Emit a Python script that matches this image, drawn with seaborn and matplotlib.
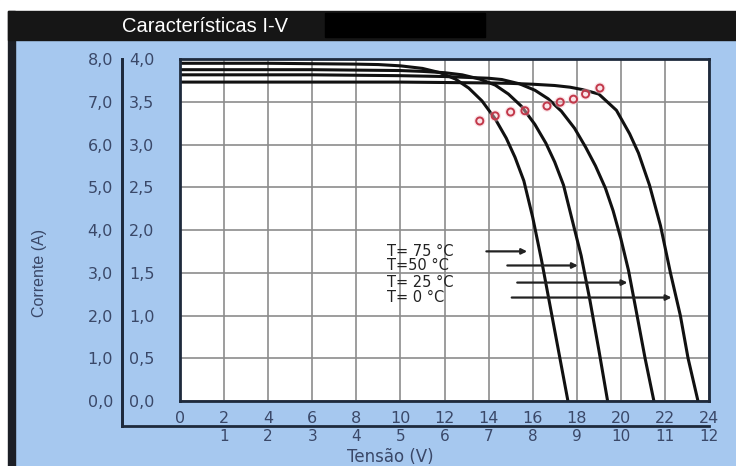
import matplotlib
matplotlib.use("Agg")
import matplotlib.pyplot as plt
from matplotlib.patches import Rectangle
import seaborn as sns
import pandas as pd

# curvas I-V (tensão em V, corrente em A)
temps = ["T= 75 °C", "T=50 °C", "T= 25 °C", "T= 0 °C"]

v_75 = [0, 2, 4, 6, 8, 9, 10, 11, 11.8, 12.5, 13.1, 13.7, 14.3, 14.8, 15.2, 15.6, 16.0, 16.4, 16.8, 17.2, 17.6]
i_75 = [7.90, 7.90, 7.90, 7.89, 7.88, 7.87, 7.84, 7.78, 7.68, 7.53, 7.32, 7.02, 6.60, 6.15, 5.70, 5.15, 4.30, 3.30, 2.20, 1.10, 0.0]

v_50 = [0, 2, 4, 6, 8, 10, 11, 12, 12.8, 13.6, 14.3, 14.9, 15.5, 16.1, 16.6, 17.0, 17.4, 17.8, 18.2, 18.6, 19.0, 19.4]
i_50 = [7.75, 7.75, 7.75, 7.75, 7.74, 7.73, 7.71, 7.68, 7.63, 7.53, 7.39, 7.18, 6.89, 6.47, 6.03, 5.59, 5.05, 4.22, 3.40, 2.35, 1.20, 0.0]

v_25 = [0, 2, 4, 6, 8, 10, 12, 13, 14, 14.6, 15.4, 16.1, 16.7, 17.3, 17.9, 18.4, 18.85, 19.3, 19.65, 20.0, 20.35, 20.7, 21.1, 21.5]
i_25 = [7.63, 7.63, 7.63, 7.63, 7.62, 7.61, 7.59, 7.57, 7.55, 7.52, 7.42, 7.27, 7.07, 6.78, 6.38, 5.94, 5.50, 4.98, 4.45, 3.80, 3.05, 2.10, 1.0, 0.0]

v_0 = [0, 2, 4, 6, 8, 10, 12, 14, 15, 16, 17, 17.7, 18.3, 19.0, 19.8, 20.4, 20.8, 21.3, 21.8, 22.25, 22.7, 23.05, 23.5]
i_0 = [7.46, 7.46, 7.46, 7.46, 7.46, 7.46, 7.45, 7.44, 7.43, 7.41, 7.38, 7.34, 7.28, 7.18, 6.80, 6.25, 5.80, 5.05, 4.10, 3.0, 2.0, 1.0, 0.0]

# circulos vermelhos (pontos de maxima potencia)
mpp_v = [13.6, 14.3, 15.0, 15.65, 16.65, 17.25, 17.85, 18.4, 19.05]
mpp_i = [6.55, 6.67, 6.76, 6.79, 6.90, 6.99, 7.06, 7.18, 7.32]

# setas das legendas
seta_i = [3.50, 3.17, 2.77, 2.42]
seta_v0 = [13.9, 14.85, 15.3, 15.05]
seta_v1 = [15.75, 18.05, 20.3, 22.3]

x_ticks = list(range(0, 25, 2))
x_labels = [str(v) for v in x_ticks]
x2_ticks = list(range(2, 25, 2))
x2_labels = [str(v // 2) for v in x2_ticks]
y_ticks = [0, 1, 2, 3, 4, 5, 6, 7, 8]
y_labels = ["0,0", "1,0", "2,0", "3,0", "4,0", "5,0", "6,0", "7,0", "8,0"]
y2_ticks = [0, 0.5, 1, 1.5, 2, 2.5, 3, 3.5, 4]
y2_labels = ["0,0", "0,5", "1,0", "1,5", "2,0", "2,5", "3,0", "3,5", "4,0"]

curvas = pd.concat([
    pd.DataFrame({"tensao": v, "corrente": i, "temp": t})
    for v, i, t in zip([v_75, v_50, v_25, v_0], [i_75, i_50, i_25, i_0], temps)
])

sns.set_style("white")
plt.rcParams["font.family"] = ["DejaVu Sans"]

W, H = 736, 466
azul = "#a6c8ef"
navy = "#1e2a3c"
txt = "#3a4868"


def box(x0, y0, x1, y1):
    # caixa em pixels (origem no topo) -> fracao da figura
    return [x0 / W, 1 - y1 / H, (x1 - x0) / W, (y1 - y0) / H]


fig = plt.figure(figsize=(W / 100, H / 100), dpi=100)
fig.patch.set_facecolor(azul)

# moldura e barra de titulo
fig.add_artist(Rectangle((0, 0), 8 / W, 1, transform=fig.transFigure, color="white", zorder=0))
fig.add_artist(Rectangle((0, 1 - 11 / H), 1, 11 / H, transform=fig.transFigure, color="white", zorder=0))
fig.add_artist(Rectangle((8 / W, 0), 7 / W, 1 - 11 / H, transform=fig.transFigure, color="#1c1f26", zorder=0))
fig.add_artist(Rectangle((8 / W, 1 - 40 / H), 1, 29 / H, transform=fig.transFigure, color="#161616", zorder=0))
fig.add_artist(Rectangle((325 / W, 1 - 37 / H), 160 / W, 24 / H, transform=fig.transFigure, color="black", zorder=0))
fig.text(122 / W, 1 - 26 / H, "Características I-V", color="white", fontsize=14.5,
         va="center", family="Liberation Sans")

# eixo externo (escalas secundarias)
L, R, T, B, B2 = 180, 709, 59, 401, 426
ax2 = fig.add_axes(box(122, T, R, B2))
ax2.patch.set_visible(False)
ax2.set_xlim(-(L - 122) / (R - L) * 24, 24)
ax2.set_ylim(-(B2 - B) / (B - T) * 8, 8)
ax2.spines[["top", "right"]].set_visible(False)
ax2.spines[["left", "bottom"]].set_color(navy)
ax2.spines[["left", "bottom"]].set_linewidth(2)
ax2.set_yticks(y_ticks, y_labels)
ax2.set_xticks(x2_ticks, x2_labels)
ax2.tick_params(axis="y", direction="inout", length=9, width=1.5, color=navy,
                labelsize=11.5, labelcolor=txt, pad=2)
ax2.tick_params(axis="x", length=0, pad=2, labelsize=11, labelcolor=txt)
sec = ax2.secondary_yaxis(0.0, functions=(lambda y: y / 2, lambda y: y * 2))
sec.set_alignment("right")
sec.spines["right"].set_color(navy)
sec.spines["right"].set_linewidth(2)
sec.set_yticks(y2_ticks, y2_labels)
sec.tick_params(length=0, pad=5, labelsize=11.5, labelcolor=txt)
ax2.set_xlabel("Tensão (V)", fontsize=12, color=txt)
ax2.xaxis.set_label_coords((390 - 122) / (R - 122), -(448 - B2) / (B2 - T))
ax2.set_ylabel("Corrente (A)", fontsize=11.5, color=txt, family="Liberation Sans")
ax2.yaxis.set_label_coords((47 - 122) / (R - 122), (B2 - 273) / (B2 - T))

# grafico principal
ax = fig.add_axes(box(L, T, R, B))
ax.set_facecolor("white")
sns.lineplot(data=curvas, x="tensao", y="corrente", hue="temp", palette=["#111111"] * 4,
             sort=False, estimator=None, legend=False, lw=2.2, ax=ax)
sns.scatterplot(x=mpp_v, y=mpp_i, s=70, color="#f6c4cc", alpha=0.45, edgecolor="none", ax=ax, zorder=4)
sns.scatterplot(x=mpp_v, y=mpp_i, s=26, marker="o", facecolor="none", edgecolor="#c2384a",
                linewidth=1.4, ax=ax, zorder=5)

for k in range(len(temps)):
    ax.text(9.39, seta_i[k], temps[k], fontsize=10.5, color="#222222", va="center")
    ax.annotate("", xy=(seta_v1[k], seta_i[k]), xytext=(seta_v0[k], seta_i[k]),
                arrowprops=dict(arrowstyle="-|>", color="#222222", lw=1.6,
                                mutation_scale=8, shrinkA=0, shrinkB=0))

ax.set_xlim(0, 24)
ax.set_ylim(0, 8)
ax.set_xticks(x_ticks, x_labels)
ax.set_yticks(y_ticks)
ax.grid(True, color="#8c8c8c", lw=1.2)
ax.tick_params(left=False, labelleft=False, bottom=False, pad=4, labelsize=11.5, labelcolor=txt)
ax.set_xlabel("")
ax.set_ylabel("")
for s in ax.spines.values():
    s.set_color(navy)
    s.set_linewidth(2)

fig.savefig("out.png", dpi=100, facecolor=fig.get_facecolor())
